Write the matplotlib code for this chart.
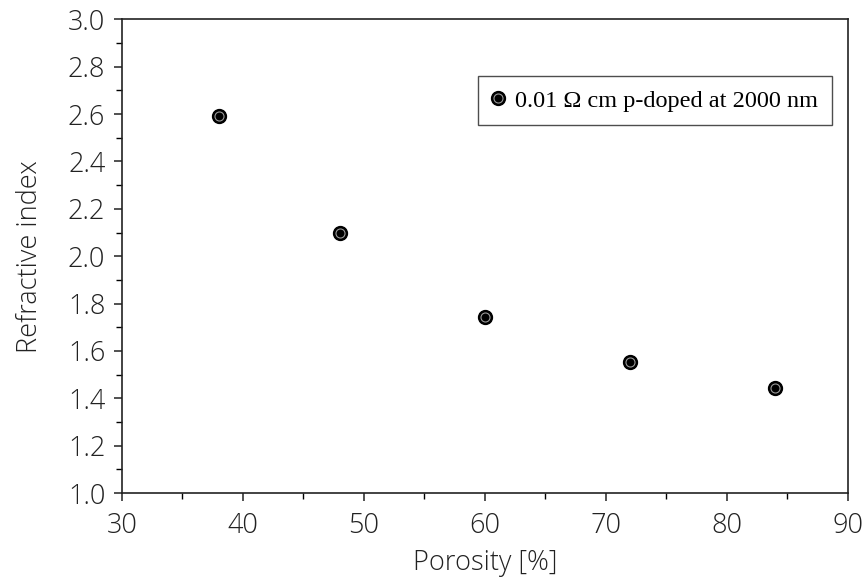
import matplotlib.pyplot as plt
from matplotlib.ticker import MultipleLocator

porosity = [38, 48, 60, 72, 84]
refr_index = [2.59, 2.10, 1.745, 1.555, 1.445]
series_label = "0.01 \u03a9 cm p-doped at 2000 nm"

plt.rcParams['font.family'] = ['Open Sans', 'DejaVu Sans']

fig = plt.figure(figsize=(8.65, 5.79), dpi=100)
ax = fig.add_axes([0.141, 0.1485, 0.839, 0.818])

outer, = ax.plot(porosity, refr_index, linestyle="none", marker="o", markersize=10,
                 markerfacecolor="black", markeredgecolor="black", markeredgewidth=1.0)
inner, = ax.plot(porosity, refr_index, linestyle="none", marker="o", markersize=6.5,
                 markerfacecolor="black", markeredgecolor="#9a9a9a", markeredgewidth=0.8)

ax.set_xlim(30, 90)
ax.set_ylim(1.0, 3.0)
ax.xaxis.set_major_locator(MultipleLocator(10))
ax.xaxis.set_minor_locator(MultipleLocator(5))
ax.yaxis.set_major_locator(MultipleLocator(0.2))
ax.yaxis.set_minor_locator(MultipleLocator(0.1))
ax.set_yticklabels([f"{v:.1f}" for v in ax.get_yticks()])

ax.tick_params(which="major", direction="out", length=6, width=1.1, labelsize=19.5, colors="#222222")
ax.tick_params(axis="x", which="major", pad=8)
ax.tick_params(axis="y", which="major", pad=6)
ax.tick_params(which="minor", direction="out", length=4, width=1.0)
for sp in ax.spines.values():
    sp.set_linewidth(1.2)
    sp.set_color("#222222")
for lbl in ax.get_xticklabels() + ax.get_yticklabels():
    lbl.set_fontweight("light")

ax.set_xlabel("Porosity [%]", fontsize=19.5, color="#222222", labelpad=6, fontweight="light")
ax.set_ylabel("Refractive index", fontsize=19.5, color="#222222", labelpad=17, fontweight="light")

leg = ax.legend([(outer, inner)], [series_label], loc="upper right",
                bbox_to_anchor=(0.978, 0.88), borderaxespad=0, frameon=True, fancybox=False,
                handlelength=0.6, handletextpad=0.4, borderpad=0.55,
                prop={"family": "Liberation Serif", "size": 17.5})
leg.get_frame().set_edgecolor("#222222")
leg.get_frame().set_linewidth(1.0)

fig.savefig("out.png", dpi=100)
